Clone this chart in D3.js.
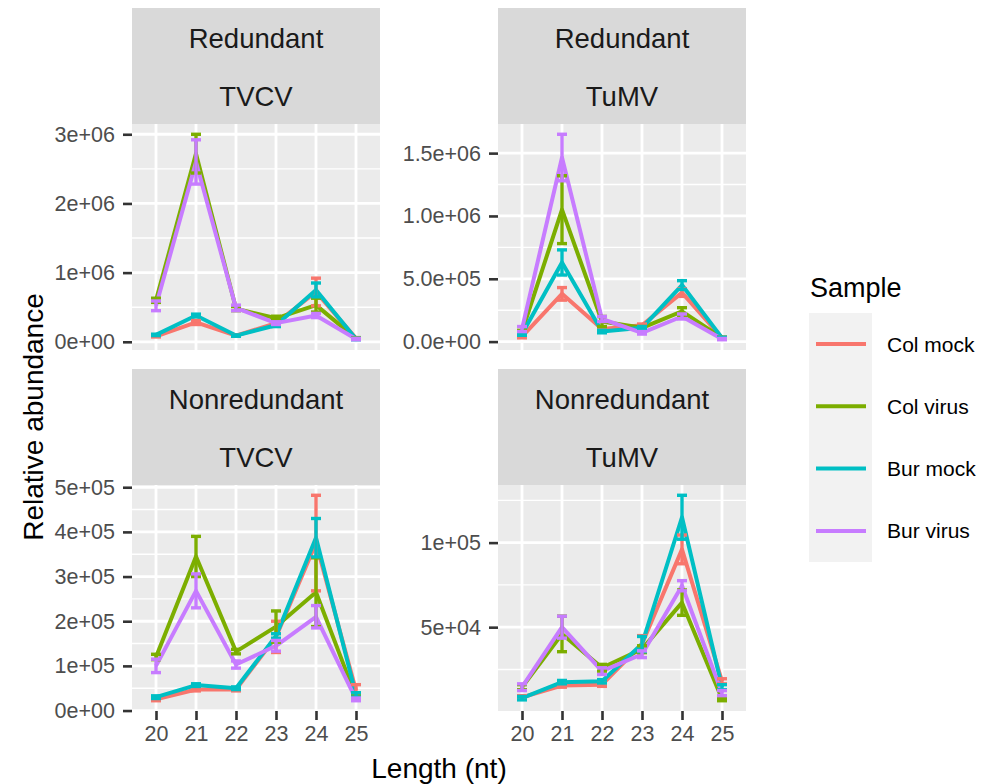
<!DOCTYPE html>
<html>
<head>
<meta charset="utf-8">
<script src="https://cdn.jsdelivr.net/npm/d3@7"></script>
<style>
  body { margin: 0; background: #fff; }
  text { font-family: "Liberation Sans", Arial, sans-serif; }
</style>
</head>
<body>
<script>
var lengths = [20, 21, 22, 23, 24, 25];
var samples = ["Col mock", "Col virus", "Bur mock", "Bur virus"];
var colors = ["#F8766D", "#7CAE00", "#00BFC4", "#C77CFF"];

// Redundant / TVCV
var redTvcvMean = [
  [0.08e6, 0.28e6, 0.09e6, 0.27e6, 0.72e6, 0.05e6],
  [0.60e6, 2.72e6, 0.48e6, 0.34e6, 0.53e6, 0.05e6],
  [0.10e6, 0.38e6, 0.09e6, 0.24e6, 0.75e6, 0.04e6],
  [0.52e6, 2.60e6, 0.49e6, 0.27e6, 0.38e6, 0.04e6]
];
var redTvcvErr = [
  [0.01e6, 0.03e6, 0.01e6, 0.02e6, 0.20e6, 0.01e6],
  [0.03e6, 0.28e6, 0.03e6, 0.03e6, 0.10e6, 0.01e6],
  [0.01e6, 0.02e6, 0.01e6, 0.02e6, 0.10e6, 0.01e6],
  [0.07e6, 0.32e6, 0.04e6, 0.02e6, 0.03e6, 0.01e6]
];
var redTvcvTicks = [0, 1e6, 2e6, 3e6];
var redTvcvLabels = ["0e+00", "1e+06", "2e+06", "3e+06"];

// Redundant / TuMV
var redTumvMean = [
  [0.04e6, 0.38e6, 0.10e6, 0.13e6, 0.39e6, 0.03e6],
  [0.08e6, 1.05e6, 0.16e6, 0.11e6, 0.24e6, 0.03e6],
  [0.06e6, 0.63e6, 0.08e6, 0.11e6, 0.45e6, 0.03e6],
  [0.10e6, 1.465e6, 0.18e6, 0.07e6, 0.20e6, 0.02e6]
];
var redTumvErr = [
  [0.01e6, 0.05e6, 0.01e6, 0.01e6, 0.03e6, 0.005e6],
  [0.01e6, 0.27e6, 0.04e6, 0.01e6, 0.03e6, 0.005e6],
  [0.01e6, 0.10e6, 0.01e6, 0.01e6, 0.035e6, 0.005e6],
  [0.02e6, 0.185e6, 0.02e6, 0.01e6, 0.02e6, 0.005e6]
];
var redTumvTicks = [0, 0.5e6, 1e6, 1.5e6];
var redTumvLabels = ["0.0e+00", "5.0e+05", "1.0e+06", "1.5e+06"];

// Nonredundant / TVCV
var nonTvcvMean = [
  [0.25e5, 0.47e5, 0.47e5, 1.65e5, 3.75e5, 0.45e5],
  [1.20e5, 3.45e5, 1.32e5, 1.88e5, 2.65e5, 0.30e5],
  [0.30e5, 0.57e5, 0.50e5, 1.67e5, 3.87e5, 0.35e5],
  [1.00e5, 2.68e5, 1.03e5, 1.45e5, 2.10e5, 0.25e5]
];
var nonTvcvErr = [
  [0.03e5, 0.03e5, 0.03e5, 0.35e5, 1.07e5, 0.13e5],
  [0.06e5, 0.45e5, 0.05e5, 0.35e5, 0.77e5, 0.03e5],
  [0.03e5, 0.03e5, 0.03e5, 0.05e5, 0.43e5, 0.05e5],
  [0.15e5, 0.38e5, 0.08e5, 0.12e5, 0.25e5, 0.03e5]
];
var nonTvcvTicks = [0, 1e5, 2e5, 3e5, 4e5, 5e5];
var nonTvcvLabels = ["0e+00", "1e+05", "2e+05", "3e+05", "4e+05", "5e+05"];

// Nonredundant / TuMV
var nonTumvMean = [
  [0.85e4, 1.55e4, 1.60e4, 4.0e4, 9.6e4, 1.80e4],
  [1.45e4, 4.60e4, 2.60e4, 3.7e4, 6.45e4, 0.75e4],
  [0.80e4, 1.75e4, 1.80e4, 4.0e4, 11.5e4, 1.45e4],
  [1.45e4, 5.00e4, 2.40e4, 3.4e4, 7.45e4, 1.10e4]
];
var nonTumvErr = [
  [0.10e4, 0.10e4, 0.10e4, 0.50e4, 0.85e4, 0.15e4],
  [0.15e4, 1.05e4, 0.20e4, 0.20e4, 0.75e4, 0.10e4],
  [0.10e4, 0.10e4, 0.10e4, 0.45e4, 1.30e4, 0.15e4],
  [0.20e4, 0.65e4, 0.20e4, 0.20e4, 0.30e4, 0.15e4]
];
var nonTumvTicks = [5e4, 1e5];
var nonTumvLabels = ["5e+04", "1e+05"];

var panels = [
  {col: 0, row: 0, strip: ["Redundant", "TVCV"], mean: redTvcvMean, err: redTvcvErr, ticks: redTvcvTicks, labels: redTvcvLabels},
  {col: 1, row: 0, strip: ["Redundant", "TuMV"], mean: redTumvMean, err: redTumvErr, ticks: redTumvTicks, labels: redTumvLabels},
  {col: 0, row: 1, strip: ["Nonredundant", "TVCV"], mean: nonTvcvMean, err: nonTvcvErr, ticks: nonTvcvTicks, labels: nonTvcvLabels},
  {col: 1, row: 1, strip: ["Nonredundant", "TuMV"], mean: nonTumvMean, err: nonTumvErr, ticks: nonTumvTicks, labels: nonTumvLabels}
];

var width = 990, height = 784;
var colX = [132, 498], rowY = [8, 369];
var plotW = 248, plotH = 226, stripH = 58;

var svg = d3.select("body").append("svg")
  .attr("width", width)
  .attr("height", height);

panels.forEach(function(p){
  var g = svg.append("g")
    .attr("transform", "translate(" + colX[p.col] + "," + rowY[p.row] + ")");

  // strips
  p.strip.forEach(function(s, i){
    g.append("rect")
      .attr("x", 0).attr("y", i * stripH)
      .attr("width", plotW).attr("height", stripH)
      .attr("fill", "#D9D9D9");
    g.append("text")
      .attr("x", plotW / 2).attr("y", i * stripH + stripH / 2 + 1)
      .attr("text-anchor", "middle")
      .attr("dominant-baseline", "central")
      .attr("font-size", 27.5)
      .attr("fill", "#1A1A1A")
      .text(s);
  });

  var plot = g.append("g").attr("transform", "translate(0," + 2 * stripH + ")");

  var x = d3.scalePoint().domain(lengths).range([0, plotW]).padding(0.6);

  var lo = d3.min(p.mean, function(m, i){ return d3.min(m, function(v, j){ return v - p.err[i][j]; }); });
  var hi = d3.max(p.mean, function(m, i){ return d3.max(m, function(v, j){ return v + p.err[i][j]; }); });
  var pad = (hi - lo) * 0.05;
  var y = d3.scaleLinear().domain([lo - pad, hi + pad]).range([plotH, 0]);

  plot.append("rect")
    .attr("width", plotW).attr("height", plotH)
    .attr("fill", "#EBEBEB");

  // minor grid
  var step = p.ticks[1] - p.ticks[0];
  var minors = [];
  for (var k = -1; k < p.ticks.length + 1; k++) {
    var v = p.ticks[0] + step / 2 + k * step;
    if (v > lo - pad && v < hi + pad) minors.push(v);
  }
  plot.selectAll(".minor").data(minors).enter().append("line")
    .attr("x1", 0).attr("x2", plotW)
    .attr("y1", function(d){ return y(d); }).attr("y2", function(d){ return y(d); })
    .attr("stroke", "#fff").attr("stroke-width", 1.4);

  plot.selectAll(".hmajor").data(p.ticks).enter().append("line")
    .attr("x1", 0).attr("x2", plotW)
    .attr("y1", function(d){ return y(d); }).attr("y2", function(d){ return y(d); })
    .attr("stroke", "#fff").attr("stroke-width", 2.8);

  plot.selectAll(".vmajor").data(lengths).enter().append("line")
    .attr("y1", 0).attr("y2", plotH)
    .attr("x1", function(d){ return x(d); }).attr("x2", function(d){ return x(d); })
    .attr("stroke", "#fff").attr("stroke-width", 2.8);

  var line = d3.line()
    .x(function(d, i){ return x(lengths[i]); })
    .y(function(d){ return y(d); });

  p.mean.forEach(function(m, i){
    plot.append("path")
      .datum(m)
      .attr("d", line)
      .attr("fill", "none")
      .attr("stroke", colors[i])
      .attr("stroke-width", 4)
      .attr("stroke-linejoin", "round");
  });

  p.mean.forEach(function(m, i){
    var eb = plot.append("g").attr("stroke", colors[i]).attr("stroke-width", 3.4);
    m.forEach(function(v, j){
      var cx = x(lengths[j]);
      var y0 = y(v - p.err[i][j]), y1 = y(v + p.err[i][j]);
      eb.append("line").attr("x1", cx).attr("x2", cx).attr("y1", y0).attr("y2", y1);
      eb.append("line").attr("x1", cx - 5).attr("x2", cx + 5).attr("y1", y0).attr("y2", y0);
      eb.append("line").attr("x1", cx - 5).attr("x2", cx + 5).attr("y1", y1).attr("y2", y1);
    });
  });

  var yAxis = plot.append("g")
    .call(d3.axisLeft(y).tickValues(p.ticks)
      .tickFormat(function(d, i){ return p.labels[i]; })
      .tickSize(9).tickPadding(8));
  yAxis.select(".domain").remove();
  yAxis.selectAll("line").attr("stroke", "#333").attr("stroke-width", 2.6);
  yAxis.selectAll("text").attr("fill", "#4D4D4D").attr("font-size", 21.5)
    .style("font-family", "'Liberation Sans', Arial, sans-serif");

  if (p.row == 1) {
    var xAxis = plot.append("g")
      .attr("transform", "translate(0," + plotH + ")")
      .call(d3.axisBottom(x).tickSize(9).tickPadding(6));
    xAxis.select(".domain").remove();
    xAxis.selectAll("line").attr("stroke", "#333").attr("stroke-width", 2.6);
    xAxis.selectAll("text").attr("fill", "#4D4D4D").attr("font-size", 21.5)
      .style("font-family", "'Liberation Sans', Arial, sans-serif");
  }
});

// axis titles
svg.append("text")
  .attr("transform", "translate(43,417) rotate(-90)")
  .attr("text-anchor", "middle")
  .attr("font-size", 28)
  .text("Relative abundance");

svg.append("text")
  .attr("x", 439).attr("y", 778)
  .attr("text-anchor", "middle")
  .attr("font-size", 28)
  .text("Length (nt)");

// legend
var legend = svg.append("g").attr("transform", "translate(809,0)");
legend.append("text")
  .attr("x", 1).attr("y", 297)
  .attr("font-size", 27)
  .text("Sample");
legend.append("rect")
  .attr("x", 0).attr("y", 313)
  .attr("width", 63).attr("height", 249)
  .attr("fill", "#F2F2F2");
samples.forEach(function(s, i){
  var ky = 344 + i * 62.3;
  legend.append("line")
    .attr("x1", 7).attr("x2", 57)
    .attr("y1", ky).attr("y2", ky)
    .attr("stroke", colors[i]).attr("stroke-width", 4);
  legend.append("text")
    .attr("x", 78).attr("y", ky)
    .attr("dominant-baseline", "central")
    .attr("font-size", 21)
    .text(s);
});
</script>
</body>
</html>
